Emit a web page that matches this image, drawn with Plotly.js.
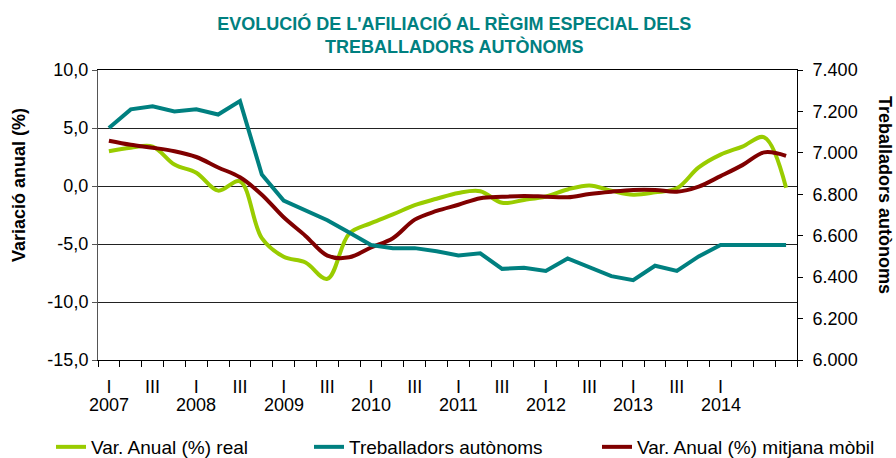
<!DOCTYPE html>
<html>
<head>
<meta charset="utf-8">
<script src="https://cdn.plot.ly/plotly-3.0.1.min.js"></script>
<style>
html, body { margin: 0; padding: 0; background: #fff; }
#chart { width: 896px; height: 458px; }
</style>
</head>
<body>
<div id="chart"></div>
<script>
// Quarters 2007 T1 .. 2014 T4
const quarterIndex = [0,1,2,3,4,5,6,7,8,9,10,11,12,13,14,15,16,17,18,19,20,21,22,23,24,25,26,27,28,29,30,31];
const years = ["2007","2008","2009","2010","2011","2012","2013","2014"];
const yearPos = [0,4,8,12,16,20,24,28];
const quarterTickPos = [0,2,4,6,8,10,12,14,16,18,20,22,24,26,28];
const quarterTickText = ["I","III","I","III","I","III","I","III","I","III","I","III","I","III","I"];

// Var. Anual (%) real
const varReal = [3.0, 3.3, 3.4, 1.85, 1.15, -0.4, 0.4, -4.5, -6.1, -6.6, -8.0, -4.1, -3.2, -2.45, -1.65, -1.1,
                 -0.6, -0.45, -1.45, -1.2, -0.9, -0.3, 0.05, -0.4, -0.75, -0.55, -0.2, 1.6, 2.7, 3.4, 4.2, -0.15];
// Treballadors autònoms
const autonoms = [7120, 7210, 7225, 7200, 7210, 7185, 7250, 6895, 6770, 6725, 6675, 6615, 6555, 6540, 6540, 6525,
                  6505, 6515, 6440, 6445, 6430, 6490, 6445, 6405, 6385, 6455, 6430, 6500, 6555, 6555, 6555, 6555];
// Var. Anual (%) mitjana mòbil
const varMobil = [3.9, 3.55, 3.3, 3.0, 2.5, 1.6, 0.75, -0.75, -2.7, -4.3, -6.0, -6.15, -5.3, -4.5, -2.9, -2.15,
                  -1.62, -1.05, -0.93, -0.86, -0.92, -0.97, -0.69, -0.49, -0.34, -0.34, -0.49, -0.05, 0.85, 1.8, 2.9, 2.6];

const leftTickVals = [-15, -10, -5, 0, 5, 10];
const leftTickText = ["-15,0", "-10,0", "-5,0", "0,0", "5,0", "10,0"];
const rightTickVals = [6000, 6200, 6400, 6600, 6800, 7000, 7200, 7400];
const rightTickText = ["6.000", "6.200", "6.400", "6.600", "6.800", "7.000", "7.200", "7.400"];

const FONT = '"Liberation Sans", Arial, sans-serif';

const traces = [
  { x: quarterIndex, y: varReal, name: 'Var. Anual (%) real', type: 'scatter', mode: 'lines',
    line: { color: '#99CC00', width: 4, shape: 'spline', smoothing: 1 }, yaxis: 'y', legend: 'legend' },
  { x: quarterIndex, y: autonoms, name: 'Treballadors autònoms', type: 'scatter', mode: 'lines',
    line: { color: '#008080', width: 4 }, yaxis: 'y2', legend: 'legend2' },
  { x: quarterIndex, y: varMobil, name: 'Var. Anual (%) mitjana mòbil', type: 'scatter', mode: 'lines',
    line: { color: '#800000', width: 4, shape: 'spline', smoothing: 1 }, yaxis: 'y', legend: 'legend3' }
];

// plot area in pixels: left 98, right 797, top 70, bottom 360
const annotations = years.map((yr, i) => ({
  x: yearPos[i], xref: 'x', y: 0, yref: 'paper', yanchor: 'middle', yshift: -45,
  text: yr, showarrow: false, font: { family: FONT, size: 18, color: '#000' }
}));
annotations.push({
  x: (19 - 98) / 699, xref: 'paper', xanchor: 'center', y: (360 - 185) / 290, yref: 'paper', yanchor: 'middle',
  text: '<b>Variació anual (%)</b>', textangle: -90, showarrow: false,
  font: { family: FONT, size: 18, color: '#000' }
});
annotations.push({
  x: (885 - 98) / 699, xref: 'paper', xanchor: 'center', y: (360 - 195) / 290, yref: 'paper', yanchor: 'middle',
  text: '<b>Treballadors autònoms</b>', textangle: 90, showarrow: false,
  font: { family: FONT, size: 18, color: '#000' }
});

function legendAt(px) {
  return {
    orientation: 'h', xref: 'container', yref: 'container',
    x: px / 896, xanchor: 'left', y: 1 - 447 / 458, yanchor: 'middle',
    font: { family: FONT, size: 19, color: '#000' }, bgcolor: 'rgba(0,0,0,0)'
  };
}

const layout = {
  width: 896, height: 458,
  margin: { l: 98, r: 99, t: 70, b: 98 },
  paper_bgcolor: '#fff', plot_bgcolor: '#fff',
  separators: ',.',
  font: { family: FONT, size: 18, color: '#000' },
  title: {
    text: "<b>EVOLUCIÓ DE L'AFILIACIÓ AL RÈGIM ESPECIAL DELS<br>TREBALLADORS AUTÒNOMS</b>",
    font: { family: FONT, size: 18, color: '#008080' },
    x: 0.507, xanchor: 'center', xref: 'container', yref: 'container', y: 1 - 30 / 458, yanchor: 'top'
  },
  showlegend: true,
  legend: legendAt(51),
  legend2: legendAt(309),
  legend3: legendAt(597),
  xaxis: {
    type: 'linear', range: [-0.5, 31.5], fixedrange: true,
    tickmode: 'array', tickvals: quarterTickPos, ticktext: quarterTickText,
    ticks: '', ticklabelstandoff: 10,
    minor: { tickmode: 'linear', tick0: -0.5, dtick: 1, ticks: 'outside', ticklen: 6, tickcolor: '#000', showgrid: false },
    showgrid: false, zeroline: false, showline: true, mirror: true, linecolor: '#000', linewidth: 1,
    tickfont: { family: FONT, size: 18, color: '#000' }
  },
  yaxis: {
    range: [-15, 10], tickmode: 'array', tickvals: leftTickVals, ticktext: leftTickText,
    ticks: 'outside', ticklen: 5, tickcolor: '#555',
    showline: true, linecolor: '#555', linewidth: 1,
    showgrid: true, gridcolor: '#222', gridwidth: 1, zeroline: false,
    tickfont: { family: FONT, size: 18, color: '#000' }
  },
  yaxis2: {
    range: [6000, 7400], overlaying: 'y', side: 'right',
    tickmode: 'array', tickvals: rightTickVals, ticktext: rightTickText,
    ticks: 'outside', ticklen: 5, tickcolor: '#000', ticklabelstandoff: 6,
    showline: true, linecolor: '#000', linewidth: 1,
    showgrid: false, zeroline: false,
    tickfont: { family: FONT, size: 18, color: '#000' }
  },
  annotations: annotations
};

Plotly.newPlot('chart', traces, layout, { staticPlot: true, displayModeBar: false });
</script>
</body>
</html>
